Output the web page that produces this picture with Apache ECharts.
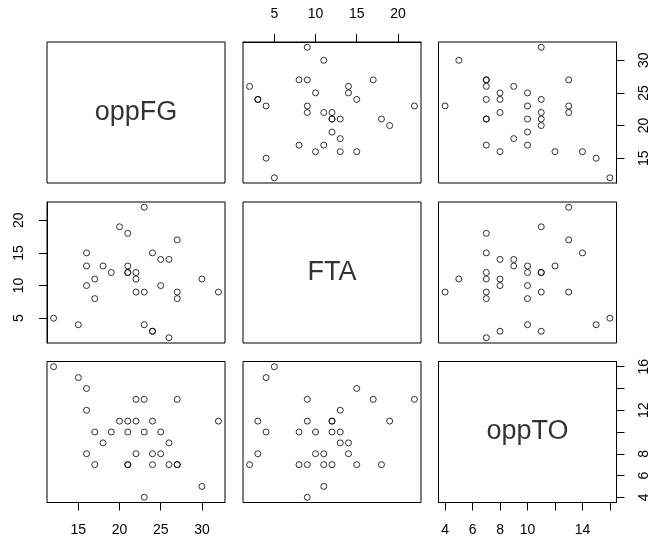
<!DOCTYPE html>
<html>
<head>
<meta charset="utf-8">
<script src="https://cdn.jsdelivr.net/npm/echarts@6/dist/echarts.min.js"></script>
<style>
  html, body { margin: 0; padding: 0; background: #fff; }
  #chart { width: 649px; height: 544px; }
</style>
</head>
<body>
<div id="chart"></div>
<script>
// Scatterplot matrix of three game statistics (one entry per game)
const varNames = ['oppFG', 'FTA', 'oppTO'];
const oppFG = [26, 24, 24, 15, 23, 12, 17, 27, 32, 22, 23, 27, 16, 25, 30, 17,
               22, 19, 22, 21, 21, 18, 16, 21, 25, 26, 16, 24, 27, 21, 20, 23];
const FTA   = [2, 3, 3, 4, 4, 5, 8, 8, 9, 9, 9, 9, 10, 10, 11, 11,
               11, 12, 12, 12, 12, 13, 13, 13, 14, 14, 15, 15, 17, 18, 19, 22];
const oppTO = [7, 11, 8, 15, 10, 16, 10, 7, 11, 13, 4, 7, 8, 10, 5, 7,
               8, 10, 11, 7, 11, 9, 12, 10, 8, 9, 14, 7, 13, 7, 11, 13];

// Tick positions and the labels printed on each outer axis
const ticks = {
  oppFG: [15, 20, 25, 30],
  FTA:   [5, 10, 15, 20],
  oppTO: [4, 6, 8, 10, 12, 14, 16]
};
const bottomLabels = { oppFG: [15, 20, 25, 30], oppTO: [4, 6, 8, 10, 14] };
const topLabels    = { FTA: [5, 10, 15, 20] };
const leftLabels   = { FTA: [5, 10, 15, 20] };
const rightLabels  = { oppFG: [15, 20, 25, 30], oppTO: [4, 6, 8, 12, 16] };

const columns = [oppFG, FTA, oppTO];

// Panel layout
const colLeft = [47, 243, 438.5];
const rowTop = [42, 202, 361.5];
const panelW = 178;
const panelH = 141;

const FONT = 'Liberation Sans, Arial, Helvetica, sans-serif';

// Data range padded by 4% on each side
function paddedRange(arr) {
  const lo = Math.min(...arr), hi = Math.max(...arr);
  const pad = (hi - lo) * 0.04;
  return [lo - pad, hi + pad];
}
const ranges = columns.map(paddedRange);

const grids = [], xAxes = [], yAxes = [], series = [];

function axisDef(dim, idx, varIdx, position, labels) {
  const name = varNames[varIdx];
  const shown = !!labels;
  const ax = {
    type: 'value',
    gridIndex: idx,
    min: ranges[varIdx][0],
    max: ranges[varIdx][1],
    position: position,
    show: shown,
    splitLine: { show: false },
    axisLine: { show: shown, onZero: false, lineStyle: { color: '#000', width: 1 } },
    axisTick: {
      show: shown, inside: false, length: 8,
      customValues: ticks[name],
      lineStyle: { color: '#000', width: 1 }
    },
    axisLabel: {
      show: shown,
      customValues: labels || [],
      margin: 21,
      color: '#000',
      fontSize: 14,
      fontFamily: FONT,
      rotate: dim === 'y' ? 90 : 0
    }
  };
  return ax;
}

for (let r = 0; r < 3; r++) {
  for (let c = 0; c < 3; c++) {
    const idx = r * 3 + c;
    grids.push({
      left: colLeft[c], top: rowTop[r], width: panelW, height: panelH,
      show: true, borderColor: '#000', borderWidth: 1,
      backgroundColor: 'transparent',
      outerBoundsMode: 'none', containLabel: false
    });

    // x axis: bottom on the last row for odd columns, top on the first row for even columns
    let xPos = 'bottom', xLabels = null;
    if (r === 2 && c % 2 === 0) { xPos = 'bottom'; xLabels = bottomLabels[varNames[c]]; }
    if (r === 0 && c % 2 === 1) { xPos = 'top'; xLabels = topLabels[varNames[c]]; }
    xAxes.push(axisDef('x', idx, c, xPos, xLabels));

    // y axis: left on the first column for even rows, right on the last column for odd rows
    let yPos = 'left', yLabels = null;
    if (c === 0 && r % 2 === 1) { yPos = 'left'; yLabels = leftLabels[varNames[r]]; }
    if (c === 2 && r % 2 === 0) { yPos = 'right'; yLabels = rightLabels[varNames[r]]; }
    yAxes.push(axisDef('y', idx, r, yPos, yLabels));

    if (r === c) {
      // variable name in the middle of the diagonal panel
      const mx = (ranges[c][0] + ranges[c][1]) / 2;
      const my = (ranges[r][0] + ranges[r][1]) / 2;
      series.push({
        type: 'scatter',
        xAxisIndex: idx, yAxisIndex: idx,
        symbolSize: 0,
        silent: true,
        data: [[mx, my]],
        label: {
          show: true, position: 'inside',
          formatter: varNames[r],
          color: '#000', fontSize: 27, fontFamily: FONT
        }
      });
    } else {
      const xs = columns[c], ys = columns[r];
      series.push({
        type: 'scatter',
        xAxisIndex: idx, yAxisIndex: idx,
        symbol: 'circle',
        symbolSize: 6,
        silent: true,
        itemStyle: { color: 'rgba(0,0,0,0)', borderColor: '#000', borderWidth: 1 },
        data: xs.map((v, i) => [v, ys[i]])
      });
    }
  }
}

const chart = echarts.init(document.getElementById('chart'), null, { renderer: 'canvas' });
chart.setOption({
  animation: false,
  backgroundColor: '#fff',
  grid: grids,
  xAxis: xAxes,
  yAxis: yAxes,
  series: series
});
</script>
</body>
</html>
